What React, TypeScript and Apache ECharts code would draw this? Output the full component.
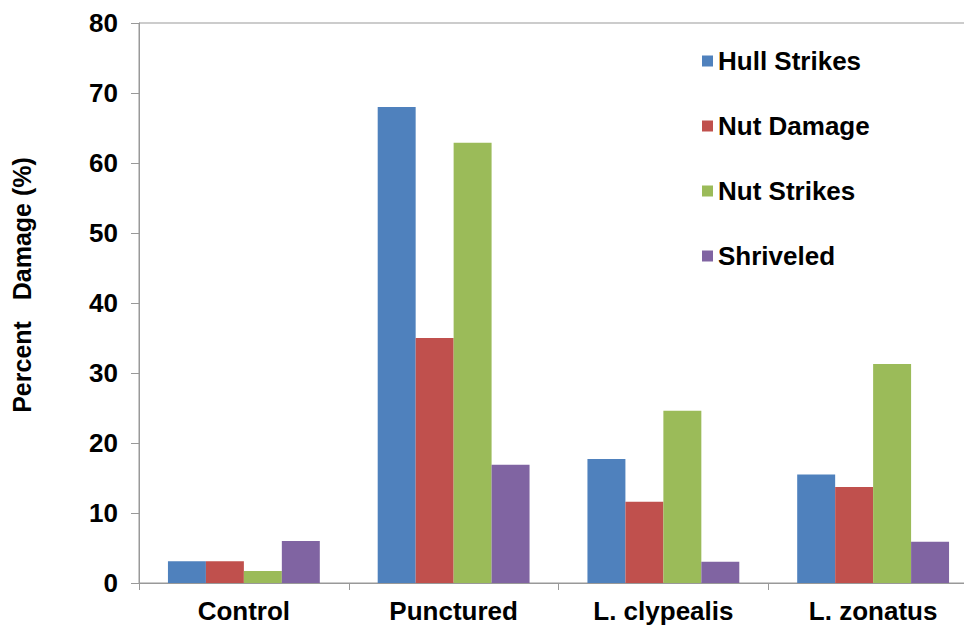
import React, { useEffect, useRef } from "react";
import * as echarts from "echarts";

const categories = ["Control", "Punctured", "L. clypealis", "L. zonatus"];
const seriesNames = ["Hull Strikes", "Nut Damage", "Nut Strikes", "Shriveled"];
const hullStrikes = [3.1, 68, 17.7, 15.5];
const nutDamage = [3.1, 35, 11.6, 13.7];
const nutStrikes = [1.7, 62.9, 24.6, 31.3];
const shriveled = [6.0, 16.9, 3.05, 5.9];
const yTitle = "Percent   Damage (%)";
const colors = ["#4F81BD", "#C0504D", "#9BBB59", "#8064A2"];

const FONT = "'Liberation Sans', Arial, sans-serif";

export default function App() {
  const ref = useRef<HTMLDivElement>(null);
  useEffect(() => {
    if (!ref.current) return;
    const chart = echarts.init(ref.current, null, { renderer: "svg" });
    const values = [hullStrikes, nutDamage, nutStrikes, shriveled];
    chart.setOption({
      animation: false,
      backgroundColor: "#ffffff",
      textStyle: { fontFamily: FONT },
      grid: {
        left: 139,
        top: 23,
        right: 0,
        bottom: 46,
        show: true,
        borderColor: "#999999",
        borderWidth: 1,
        containLabel: false,
      },
      legend: {
        orient: "vertical",
        left: 697,
        top: 41,
        itemWidth: 11,
        itemHeight: 11,
        itemGap: 35,
        icon: "rect",
        textStyle: {
          fontFamily: FONT,
          fontWeight: "bold",
          fontSize: 26,
          color: "#000",
          lineHeight: 30,
        },
        data: seriesNames,
      },
      graphic: [
        {
          type: "text",
          x: 22,
          y: 285,
          rotation: Math.PI / 2,
          style: {
            text: yTitle,
            fontFamily: FONT,
            fontWeight: "bold",
            fontSize: 25,
            fill: "#000",
            align: "center",
            verticalAlign: "middle",
          },
        },
      ],
      xAxis: {
        type: "category",
        data: categories,
        axisLine: { show: true, lineStyle: { color: "#999999", width: 1 } },
        axisTick: { show: true, length: 7, interval: 0, lineStyle: { color: "#999999" } },
        axisLabel: {
          fontFamily: FONT,
          fontWeight: "bold",
          fontSize: 26,
          color: "#000",
          margin: 15,
          interval: 0,
        },
      },
      yAxis: {
        type: "value",
        min: 0,
        max: 80,
        interval: 10,
        axisLine: { show: true, lineStyle: { color: "#999999", width: 1 } },
        axisTick: { show: true, length: 8, lineStyle: { color: "#999999" } },
        splitLine: { show: false },
        axisLabel: {
          fontFamily: FONT,
          fontWeight: "bold",
          fontSize: 26,
          color: "#000",
          margin: 21,
        },
      },
      series: seriesNames.map((name, i) => ({
        name,
        type: "bar",
        data: values[i],
        barGap: "0%",
        barCategoryGap: "27.6%",
        itemStyle: { color: colors[i] },
      })),
    });
    return () => chart.dispose();
  }, []);
  return (
    <div
      ref={ref}
      style={{ position: "fixed", left: 0, top: 0, width: 978, height: 629 }}
    />
  );
}
